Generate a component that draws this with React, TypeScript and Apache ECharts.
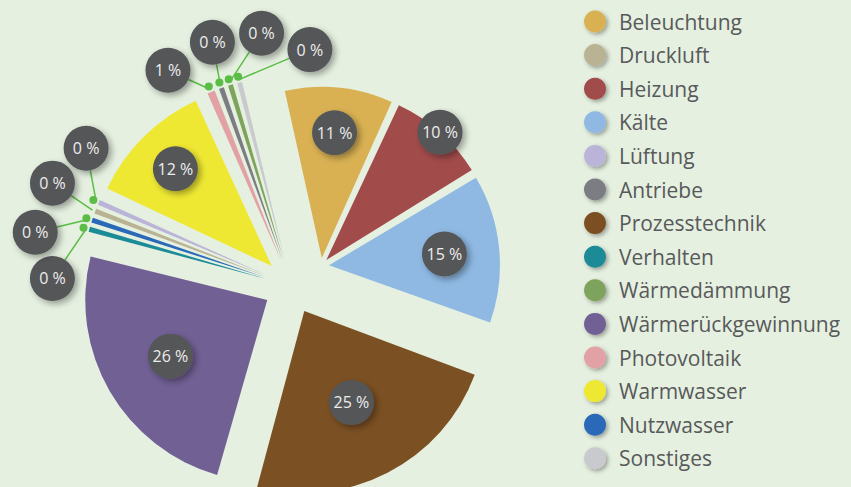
import React, { useEffect, useRef } from 'react';
import * as echarts from 'echarts';

// ---- data (clockwise order of the slices) ----
const sliceNames = [
  'Beleuchtung', 'Heizung', 'Kälte', 'Prozesstechnik', 'Wärmerückgewinnung',
  'Verhalten', 'Nutzwasser', 'Druckluft', 'Lüftung', 'Warmwasser',
  'Photovoltaik', 'Antriebe', 'Wärmedämmung', 'Sonstiges',
];
const sliceValues = [11, 10, 15, 25, 26, 0.45, 0.45, 0.45, 0.45, 12, 1, 0.45, 0.45, 0.45];
const legendOrder = [
  'Beleuchtung', 'Druckluft', 'Heizung', 'Kälte', 'Lüftung', 'Antriebe', 'Prozesstechnik',
  'Verhalten', 'Wärmedämmung', 'Wärmerückgewinnung', 'Photovoltaik', 'Warmwasser', 'Nutzwasser', 'Sonstiges',
];
const sliceColors: Record<string, string> = {
  Beleuchtung: '#d9b153', Druckluft: '#b9b393', Heizung: '#a24b4b', 'Kälte': '#8fb9e3',
  'Lüftung': '#bab5d8', Antriebe: '#7c7d83', Prozesstechnik: '#7b5023', Verhalten: '#1b8b97',
  'Wärmedämmung': '#7ea35b', 'Wärmerückgewinnung': '#716094', Photovoltaik: '#e2a1a4',
  Warmwasser: '#efe833', Nutzwasser: '#2a69b8', Sonstiges: '#c9cacd',
};

// ---- styling / layout config ----
const BG = '#e5f0e0';
const GREEN = '#5bbd45';
const FONT = '"Open Sans", sans-serif';
const START_ANGLE = 103;
const PAD_ANGLE = 1.0;
const MIN_ANGLE = 1.6;
const GROUP_A = ['Beleuchtung', 'Heizung', 'Kälte'];
const SLIVERS = ['Verhalten', 'Nutzwasser', 'Druckluft', 'Lüftung', 'Photovoltaik', 'Antriebe', 'Wärmedämmung', 'Sonstiges'];
const GROUPS: Record<string, { center: number[]; radius: number; offset: number }> = {
  A: { center: [321, 266], radius: 171, offset: 8 },
  B: { center: [291.5, 286], radius: 182, offset: 28 },
};
// distance of the big-slice label from the slice tip
const LABEL_DIST: Record<string, number> = {
  Beleuchtung: 123, Heizung: 168, 'Kälte': 113, Prozesstechnik: 100, 'Wärmerückgewinnung': 109, Warmwasser: 134,
};
// nudge of the sliver labels from the sliver end
const SLIVER_NUDGE: Record<string, number[]> = {
  'Lüftung': [-10, -53], Druckluft: [-40, -27], Nutzwasser: [-54, 13], Verhalten: [-34, 50],
  Photovoltaik: [-42, -19], Antriebe: [-8, -43], 'Wärmedämmung': [32, -49], Sonstiges: [71, -30],
};
const CIRCLE_R = 22.5;
const DOT_GAP = 3;

const groupOf = (n: string) => (GROUP_A.includes(n) ? 'A' : 'B');

const circleLabel = {
  formatter: (p: any) => `${Math.round(p.value)} %`,
  backgroundColor: '#545659',
  color: '#ededed',
  fontFamily: FONT,
  fontSize: 16,
  width: CIRCLE_R * 2,
  height: CIRCLE_R * 2,
  lineHeight: CIRCLE_R * 2,
  borderRadius: CIRCLE_R,
  align: 'center',
  shadowColor: 'rgba(0,0,0,0.35)',
  shadowBlur: 6,
  shadowOffsetX: 3,
  shadowOffsetY: 3,
};

function base(group: string, extra: any) {
  const g = GROUPS[group];
  return {
    type: 'pie',
    center: g.center,
    startAngle: START_ANGLE,
    clockwise: true,
    padAngle: PAD_ANGLE,
    minAngle: MIN_ANGLE,
    selectedMode: 'multiple',
    selectedOffset: g.offset,
    avoidLabelOverlap: false,
    emphasis: { disabled: true },
    animation: false,
    ...extra,
  };
}

// sliver labels: anchor taken from the library's label rect, pushed out by the explode offset
function sliverLayout(p: any) {
  const n = sliceNames[p.dataIndex];
  const nudge = SLIVER_NUDGE[n];
  const r = p.labelRect;
  if (!nudge || !r) return {};
  const g = GROUPS.B;
  const ax = p.align === 'right' ? r.x + r.width : p.align === 'left' ? r.x : r.x + r.width / 2;
  const ay = r.y + r.height / 2;
  const vx = ax - g.center[0];
  const vy = ay - g.center[1];
  const vl = Math.hypot(vx, vy) || 1;
  const x0 = ax + (vx / vl) * (g.offset + DOT_GAP);
  const y0 = ay + (vy / vl) * (g.offset + DOT_GAP);
  const cx = x0 + nudge[0];
  const cy = y0 + nudge[1];
  const len = Math.hypot(nudge[0], nudge[1]);
  const ex = cx - (nudge[0] / len) * CIRCLE_R;
  const ey = cy - (nudge[1] / len) * CIRCLE_R;
  return { x: cx, y: cy, align: 'center', verticalAlign: 'middle', labelLinePoints: [[x0, y0], [ex, ey]] };
}

const transparentData = (show: (n: string) => boolean, selected: boolean) =>
  sliceNames.map((n, i) => ({
    name: n, value: sliceValues[i], selected,
    itemStyle: { color: 'rgba(0,0,0,0)' },
    select: { itemStyle: { color: 'rgba(0,0,0,0)' } },
    label: { show: show(n) },
    labelLine: { show: show(n) },
  }));

function buildSeries() {
  const series: any[] = [];
  (['A', 'B'] as const).forEach((group) => {
    const g = GROUPS[group];
    // visible slices
    series.push(base(group, {
      name: 'slices' + group,
      radius: [0, g.radius],
      z: 2,
      label: { show: false },
      labelLine: { show: false },
      data: sliceNames.map((n, i) => {
        const mine = groupOf(n) === group;
        return {
          name: n, value: sliceValues[i], selected: true,
          itemStyle: { color: mine ? sliceColors[n] : 'rgba(0,0,0,0)' },
          select: { itemStyle: { color: mine ? sliceColors[n] : 'rgba(0,0,0,0)' } },
        };
      }),
    }));
  });
  // green dots at the sliver ends
  series.push(base('B', {
    name: 'dots',
    radius: [0, (GROUPS.B.radius + DOT_GAP) * 2],
    z: 5,
    silent: true,
    label: {
      position: 'inside', formatter: ' ', backgroundColor: GREEN, width: 8, height: 8,
      lineHeight: 8, fontSize: 1, borderRadius: 4, padding: 0,
    },
    labelLine: { show: false },
    data: transparentData((n) => SLIVERS.includes(n), true).map((d) => ({ ...d, labelLine: { show: false } })),
  }));
  // sliver labels (not selected, so that the label layout can place them)
  series.push(base('B', {
    name: 'sliver-labels',
    radius: [0, GROUPS.B.radius],
    selectedMode: false,
    z: 4,
    silent: true,
    label: { position: 'outside', distanceToLabelLine: 0, ...circleLabel },
    labelLine: { length: 0, length2: 0, lineStyle: { color: GREEN, width: 1.5 } },
    labelLayout: sliverLayout,
    data: transparentData((n) => SLIVERS.includes(n), false),
  }));
  // labels of the large slices
  Object.keys(LABEL_DIST).forEach((target) => {
    const group = groupOf(target);
    series.push(base(group, {
      name: 'label-' + target,
      radius: [0, LABEL_DIST[target] * 2],
      z: 6,
      silent: true,
      label: { position: 'inside', ...circleLabel },
      labelLine: { show: false },
      data: transparentData((n) => n === target, true).map((d) => ({ ...d, labelLine: { show: false } })),
    }));
  });
  return series;
}

export default function App() {
  const ref = useRef<HTMLDivElement>(null);
  useEffect(() => {
    if (!ref.current) return;
    const chart = echarts.init(ref.current, undefined, { renderer: 'svg' });
    chart.setOption({
      animation: false,
      backgroundColor: BG,
      legend: {
        orient: 'vertical',
        left: 579,
        top: 5.5,
        icon: 'circle',
        itemWidth: 22,
        itemHeight: 22,
        itemGap: 11.6,
        selectedMode: false,
        itemStyle: { shadowColor: 'rgba(0,0,0,0.35)', shadowBlur: 4, shadowOffsetX: 2, shadowOffsetY: 2 },
        textStyle: { fontFamily: FONT, fontSize: 21, color: '#58595b', padding: [0, 0, 0, 8] },
        data: legendOrder.map((n) => ({ name: n, itemStyle: { color: sliceColors[n] } })),
      },
      series: buildSeries(),
    });
    return () => chart.dispose();
  }, []);
  return (
    <div
      ref={ref}
      style={{ position: 'fixed', left: 0, top: 0, width: 851, height: 487, background: BG }}
    />
  );
}
